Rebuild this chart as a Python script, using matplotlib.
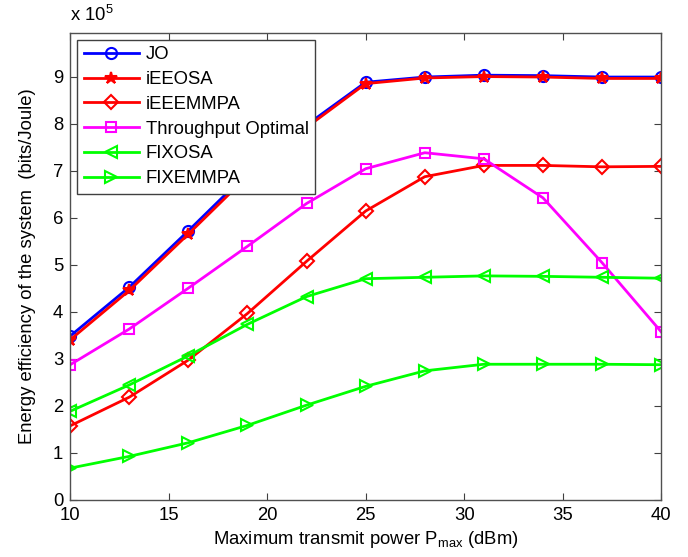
import matplotlib
matplotlib.use("Agg")
import matplotlib.pyplot as plt

plt.rcParams['font.family'] = ['Liberation Sans', 'DejaVu Sans']
plt.rcParams['mathtext.fontset'] = 'custom'
plt.rcParams['mathtext.rm'] = 'Liberation Sans'
plt.rcParams['mathtext.it'] = 'Liberation Sans'

x = [10, 13, 16, 19, 22, 25, 28, 31, 34, 37, 40]
jo = [3.48, 4.52, 5.72, 6.95, 7.97, 8.88, 8.99, 9.03, 9.02, 8.99, 8.99]
ieeosa = [3.40, 4.45, 5.65, 6.88, 7.92, 8.85, 8.97, 9.00, 8.99, 8.96, 8.96]
ieeemmpa = [1.57, 2.18, 2.97, 3.96, 5.07, 6.14, 6.87, 7.11, 7.11, 7.08, 7.09]
thr_opt = [2.87, 3.63, 4.50, 5.39, 6.30, 7.04, 7.38, 7.25, 6.42, 5.04, 3.57]
fixosa = [1.88, 2.44, 3.06, 3.73, 4.32, 4.70, 4.73, 4.76, 4.75, 4.73, 4.71]
fixemmpa = [0.67, 0.92, 1.21, 1.58, 2.01, 2.41, 2.74, 2.88, 2.88, 2.88, 2.87]

series = [
    ("JO", jo, (0, 0, 1), 'o', 'none', 8),
    ("iEEOSA", ieeosa, (1, 0, 0), '*', (1, 0, 0), 9),
    ("iEEEMMPA", ieeemmpa, (1, 0, 0), 'D', 'none', 7),
    ("Throughput Optimal", thr_opt, (1, 0, 1), 's', 'none', 7.5),
    ("FIXOSA", fixosa, (0, 1, 0), '<', 'none', 9),
    ("FIXEMMPA", fixemmpa, (0, 1, 0), '>', 'none', 9),
]

fig = plt.figure(figsize=(6.88, 5.57), dpi=100)
ax = fig.add_axes([0.102, 0.103, 0.859, 0.838])

for name, vals, col, mk, mfc, ms in series:
    ax.plot(x, [v * 1e5 for v in vals], color=col, lw=2, marker=mk,
            markerfacecolor=mfc, markeredgecolor=col, markeredgewidth=1.5,
            markersize=ms, label=name)

ax.set_xlim(10, 40)
ax.set_ylim(0, 9.93e5)
ax.set_xticks([10, 15, 20, 25, 30, 35, 40])
ax.set_yticks([i * 1e5 for i in range(10)])
ax.set_yticklabels([str(i) for i in range(10)])
ax.tick_params(direction='in', top=True, right=True, labelsize=13.3,
               length=5, color='#404040', pad=5)
for s in ax.spines.values():
    s.set_color('#505050')
    s.set_linewidth(1.0)

ax.set_xlabel(r'Maximum transmit power P$_{\mathrm{max}}$ (dBm)', fontsize=13.3, labelpad=4)
ax.set_ylabel('Energy efficiency of the system  (bits/Joule)', fontsize=13.3, labelpad=12)

fig.text(0.102, 0.955, r'x 10$^{5}$', fontsize=13.3, ha='left', va='bottom')

leg = ax.legend(loc='upper left', fontsize=13.3, frameon=True, fancybox=False,
                edgecolor='#404040', framealpha=1, borderpad=0.35,
                labelspacing=0.42, handlelength=3.0, handletextpad=0.35,
                borderaxespad=0.38)
leg.get_frame().set_linewidth(1.0)

fig.savefig("out.png", dpi=100)
